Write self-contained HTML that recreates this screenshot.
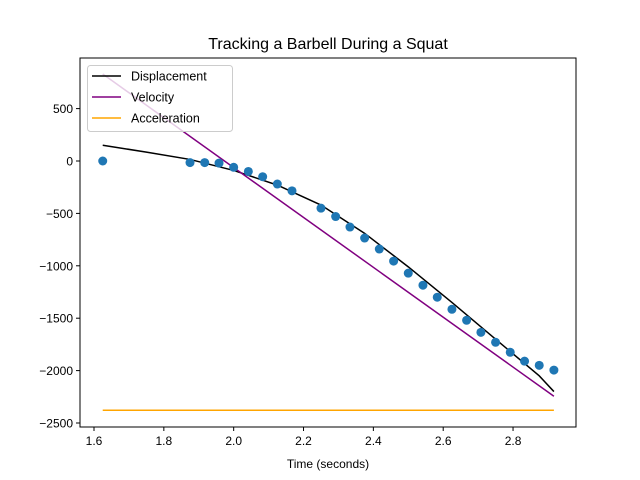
<!DOCTYPE html>
<html><head><meta charset="utf-8"><style>
body{margin:0;background:#fff}
svg{display:block;font-family:"Liberation Sans","DejaVu Sans",sans-serif}
</style></head><body>
<svg id="chart" width="640" height="480"></svg>
<script>
const pointTimes=[1.625,1.875,1.917,1.958,2.0,2.042,2.083,2.125,2.167,2.25,2.292,2.333,2.375,2.417,2.458,2.5,2.542,2.583,2.625,2.667,2.708,2.75,2.792,2.833,2.875,2.917];
const pointValues=[0,-15,-15,-20,-60,-100,-150,-220,-285,-450,-530,-630,-735,-840,-955,-1070,-1185,-1300,-1415,-1520,-1635,-1730,-1825,-1910,-1950,-1995];
const dispTimes=[1.625,1.75,1.875,2.0,2.125,2.25,2.375,2.5,2.625,2.75,2.875,2.917];
const dispValues=[150,85,15,-90,-230,-420,-690,-1010,-1350,-1700,-2050,-2200];
const velTimes=[1.625,2.917];
const velValues=[830,-2245];
const accTimes=[1.625,2.917];
const accValues=[-2378,-2378];
const xTicks=[1.6,1.8,2.0,2.2,2.4,2.6,2.8];
const yTicks=[500,0,-500,-1000,-1500,-2000,-2500];

const NS="http://www.w3.org/2000/svg";
const svg=document.getElementById('chart');
const L=80,R=576,T=58,B=427;
const X=v=>94+(v-1.6)*349.2;
const Y=v=>161-v*0.1048;
function mk(tag,at,parent){const e=document.createElementNS(NS,tag);for(const k in at)e.setAttribute(k,at[k]);(parent||svg).appendChild(e);return e;}

const title=mk('text',{x:328,y:49,'text-anchor':'middle','font-size':16,fill:'#000'});
title.textContent='Tracking a Barbell During a Squat';



const defs=mk('defs',{});
const cp=mk('clipPath',{id:'clip'},defs);
mk('rect',{x:L,y:T,width:R-L,height:B-T},cp);
const plot=mk('g',{'clip-path':'url(#clip)'});



function line(ts,vs,color,name){
  const p=mk('polyline',{points:ts.map((t,i)=>X(t)+','+Y(vs[i])).join(' '),fill:'none',stroke:color,'stroke-width':1.5},plot);
  
  
}
line(dispTimes,dispValues,'#000','displacement-line');
line(velTimes,velValues,'purple','velocity-line');
line(accTimes,accValues,'orange','acceleration-line');
pointTimes.forEach((t,i)=>{
  const c=mk('circle',{cx:X(t),cy:Y(pointValues[i]),r:4.5,fill:'#1f77b4'},plot);
  
  
});

const frame=mk('rect',{x:L,y:T,width:R-L,height:B-T,fill:'none',stroke:'#000','stroke-width':1});



xTicks.forEach(v=>{
  const x=X(v);
  const tk=mk('line',{x1:x,x2:x,y1:B,y2:B+4,stroke:'#000'});
  
  
  const t=mk('text',{x:x,y:B+18,'text-anchor':'middle','font-size':12,fill:'#000'});
  t.textContent=v.toFixed(1);
  
  
});
yTicks.forEach(v=>{
  const y=Y(v);
  const tk=mk('line',{x1:L-4,x2:L,y1:y,y2:y,stroke:'#000'});
  
  
  const t=mk('text',{x:L-7,y:y+4.5,'text-anchor':'end','font-size':12,fill:'#000'});
  t.textContent=v<0?'\u2212'+(-v):String(v);
  
  
});
const xl=mk('text',{x:328,y:468,'text-anchor':'middle','font-size':12,fill:'#000'});
xl.textContent='Time (seconds)';



const lg=mk('g',{});


mk('rect',{x:87.5,y:65.5,width:145,height:66,rx:3,fill:'#fff','fill-opacity':0.8,stroke:'#ccc'},lg);
[['Displacement','#000'],['Velocity','purple'],['Acceleration','orange']].forEach((e,i)=>{
  const y=76+i*21;
  const g=mk('g',{},lg);
  
  
  mk('line',{x1:92,x2:121,y1:y,y2:y,stroke:e[1],'stroke-width':1.5},g);
  const t=mk('text',{x:131,y:y+4.5,'font-size':12.5,fill:'#000'},g);
  t.textContent=e[0];
});
</script>
</body></html>
